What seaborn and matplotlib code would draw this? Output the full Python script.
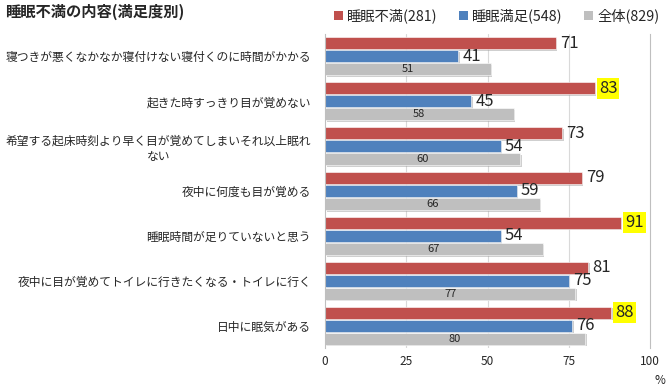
import pandas as pd
import numpy as np
import matplotlib
matplotlib.use("Agg")
import matplotlib.pyplot as plt
import matplotlib.patheffects as pe
from matplotlib.patches import Patch
import seaborn as sns

categories = [
    '寝つきが悪くなかなか寝付けない寝付くのに時間がかかる',
    '起きた時すっきり目が覚めない',
    '希望する起床時刻より早く目が覚めてしまいそれ以上眠れ\nない',
    '夜中に何度も目が覚める',
    '睡眠時間が足りていないと思う',
    '夜中に目が覚めてトイレに行きたくなる・トイレに行く',
    '日中に眠気がある',
]
groups = ['睡眠不満(281)', '睡眠満足(548)', '全体(829)']
fuman = [71, 83, 73, 79, 91, 81, 88]
manzoku = [41, 45, 54, 59, 54, 75, 76]
zentai = [51, 58, 60, 66, 67, 77, 80]
highlight = [83, 91, 88]
xticks = [0, 25, 50, 75, 100]

colors = ['#C0504D', '#4F81BD', '#BFBFBF']

df = pd.DataFrame({
    'item': categories * 3,
    'group': np.repeat(groups, len(categories)),
    'value': fuman + manzoku + zentai,
})

sns.set_style('white')
plt.rcParams['font.family'] = ['Noto Sans CJK JP', 'DejaVu Sans']

fig = plt.figure(figsize=(6.7, 3.9), dpi=100)
ax = fig.add_axes([325 / 670, 42 / 390, 325 / 670, 314 / 390])

sns.barplot(data=df, y='item', x='value', hue='group', orient='h',
            palette=colors, saturation=1, width=0.87, gap=0.08, legend=False, ax=ax,
            edgecolor='white', linewidth=0.4)

for bar in ax.patches:
    bar.set_path_effects([pe.SimplePatchShadow(offset=(1.2, -1.2), shadow_rgbFace='#A0A0A0', alpha=0.5),
                          pe.Normal()])

ax.set_xlim(0, 100)
ax.set_ylim(len(categories) - 0.5, -0.5)
ax.set_xticks(xticks)
ax.set_xticklabels([str(t) for t in xticks], fontsize=8.5)
ax.tick_params(axis='x', length=0, pad=5)
ax.tick_params(axis='y', length=0, pad=10)
ax.set_yticks(range(len(categories)))
ax.set_yticklabels(categories, fontsize=8.5, multialignment='center')
ax.set_xlabel('')
ax.set_ylabel('')
for t in xticks[1:4]:
    ax.axvline(t, color='#D9D9D9', lw=0.8, zorder=0)
for side in ['top', 'bottom']:
    ax.spines[side].set_visible(False)
for side in ['left', 'right']:
    ax.spines[side].set_color('#BFBFBF')
    ax.spines[side].set_linewidth(0.8)

# value labels
for i, cont in enumerate(ax.containers):
    if i < 2:
        texts = ax.bar_label(cont, padding=3, fontsize=12)
        for t in texts:
            if i == 0 and int(t.get_text()) in highlight:
                t.set_bbox(dict(facecolor='#FFFF00', edgecolor='none', pad=1.5))
    else:
        ax.bar_label(cont, label_type='center', fontsize=8)

fig.text(5 / 670, 1 - 12 / 390, '睡眠不満の内容(満足度別)', fontsize=11, fontweight='bold',
         va='center', ha='left')
fig.text(660 / 670, 1 - 381 / 390, '%', fontsize=8.5, va='center', ha='center')

handles = [Patch(facecolor=c, edgecolor='none') for c in colors]
fig.legend(handles, groups, loc='center right', bbox_to_anchor=(665 / 670, 1 - 16 / 390),
           ncol=3, frameon=False, fontsize=10.3, handlelength=0.6, handleheight=0.6,
           handletextpad=0.3, columnspacing=1.5, borderaxespad=0)

fig.savefig('out.png', dpi=100)
